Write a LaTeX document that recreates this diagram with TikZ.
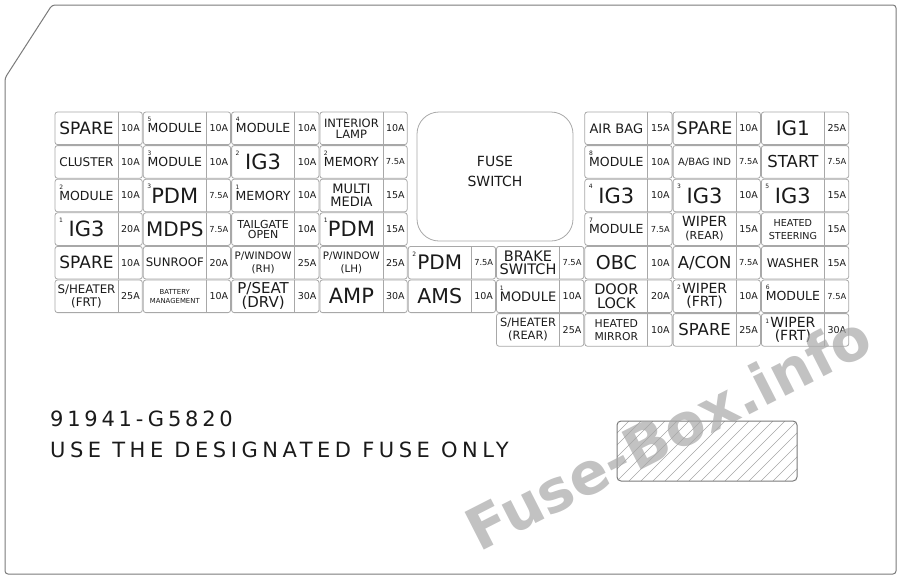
\documentclass[tikz,border=0pt]{standalone}
\usepackage{fontspec}
\setmainfont{DejaVu Sans}
\newfontfamily\spacedfont[LetterSpace=18]{DejaVu Sans}
\newfontfamily\widefont[LetterSpace=21.5]{DejaVu Sans}
\definecolor{cellc}{HTML}{A8A8A8}
\definecolor{txtc}{HTML}{1A1A1A}
\definecolor{outc}{HTML}{7A7A7A}
\definecolor{wmc}{HTML}{A8A8A8}
\newcommand\sa[1]{\makebox[0pt][l]{\raisebox{11pt}[0pt][0pt]{\fontsize{6}{6}\selectfont#1}}}
\newcommand\fz[8]{%
  \node[cell] (#3) at (#1,#2) {};
  \draw[divl] ([xshift=63pt]#3.north west) -- ([xshift=63pt]#3.south west);
  \node[lbl, font=\fontsize{#4}{#5}\selectfont] (#3l) at ([xshift=31.5pt]#3.west) {#6};
  \node[lbl, font=\fontsize{#7}{#7}\selectfont] (#3a) at ([xshift=75.5pt]#3.west) {#8};
}
\newcommand\sd[2]{\node[dig] (#1d) at ([xshift=6pt,yshift=-7.5pt]#1.north west) {#2};}
\begin{document}
\begin{tikzpicture}[x=1pt,y=-1pt,
  cell/.style={draw=cellc, line width=0.8pt, rounded corners=2.5pt, minimum width=87.3pt, minimum height=32.6pt, anchor=north west, inner sep=0pt, outer sep=0pt},
  divl/.style={draw=cellc, line width=0.8pt},
  lbl/.style={text=txtc, align=center, inner sep=0pt},
  dig/.style={text=txtc, font=\fontsize{6}{6}\selectfont, inner sep=0pt},
  outl/.style={draw=outc, line width=1pt},
  hatch/.style={draw=gray!70, line width=0.5pt}]
\useasboundingbox (0,0) rectangle (900,579);
% outline
\draw[outl, rounded corners=3pt] (5,78) -- (52,5) -- (896,5) -- (896,574) -- (5,574) -- cycle;
% column 1
\fz{55}{112}{a1}{17}{17}{SPARE}{9.5}{10A}
\fz{55}{145.6}{a2}{12}{12}{CLUSTER}{9.5}{10A}
\fz{55}{179.2}{a3}{12.5}{12.5}{\sa{2}MODULE}{9.5}{10A}
\fz{55}{212.8}{a4}{21}{21}{IG3}{9.5}{20A}\sd{a4}{1}
\fz{55}{246.4}{a5}{17}{17}{SPARE}{9.5}{10A}
\fz{55}{280}{a6}{11.8}{13}{S/HEATER\\(FRT)}{9.5}{25A}
% column 2
\fz{143.3}{112}{b1}{12.5}{12.5}{\sa{5}MODULE}{9.5}{10A}
\fz{143.3}{145.6}{b2}{12.5}{12.5}{\sa{3}MODULE}{9.5}{10A}
\fz{143.3}{179.2}{b3}{21}{21}{PDM}{8.3}{7.5A}\sd{b3}{3}
\fz{143.3}{212.8}{b4}{20}{20}{MDPS}{8.3}{7.5A}
\fz{143.3}{246.4}{b5}{11.7}{11.7}{SUNROOF}{9.5}{20A}
\fz{143.3}{280}{b6}{6.9}{9}{BATTERY\\MANAGEMENT}{9.5}{10A}
% column 3
\fz{231.6}{112}{c1}{12.5}{12.5}{\sa{4}MODULE}{9.5}{10A}
\fz{231.6}{145.6}{c2}{21}{21}{IG3}{9.5}{10A}\sd{c2}{2}
\fz{231.6}{179.2}{c3}{12.5}{12.5}{\sa{1}MEMORY}{9.5}{10A}
\fz{231.6}{212.8}{c4}{11}{10}{TAILGATE\\OPEN}{9.5}{10A}
\fz{231.6}{246.4}{c5}{10.3}{13}{P/WINDOW\\(RH)}{9.5}{25A}
\fz{231.6}{280}{c6}{15}{14}{P/SEAT\\(DRV)}{9.5}{30A}
% column 4
\fz{319.9}{112}{d1}{11.5}{11}{INTERIOR\\LAMP}{9.5}{10A}
\fz{319.9}{145.6}{d2}{12.5}{12.5}{\sa{2}MEMORY}{8.3}{7.5A}
\fz{319.9}{179.2}{d3}{13}{13}{MULTI\\MEDIA}{9.5}{15A}
\fz{319.9}{212.8}{d4}{21}{21}{PDM}{9.5}{15A}\sd{d4}{1}
\fz{319.9}{246.4}{d5}{10.3}{13}{P/WINDOW\\(LH)}{9.5}{25A}
\fz{319.9}{280}{d6}{21}{21}{AMP}{9.5}{30A}
% fuse switch
\node[draw=cellc, line width=0.8pt, rounded corners=22pt, minimum width=156pt, minimum height=129pt, inner sep=0pt] (sw) at (495,176.5) {};
\node[lbl, font=\fontsize{14}{20}\selectfont] (swt) at (495,171) {FUSE\\SWITCH};
% column 5
\fz{408.2}{246.4}{e5}{20}{20}{PDM}{8.3}{7.5A}\sd{e5}{2}
\fz{408.2}{280}{e6}{20.5}{20.5}{AMS}{9.5}{10A}
% column 6
\fz{496.5}{246.4}{f5}{14.5}{13}{BRAKE\\SWITCH}{8.3}{7.5A}
\fz{496.5}{280}{f6}{13}{13}{\sa{1}MODULE}{9.5}{10A}
\fz{496.5}{313.6}{f7}{11.4}{13}{S/HEATER\\(REAR)}{9.5}{25A}
% column 7
\fz{584.8}{112}{g1}{13}{13}{AIR BAG}{9.5}{15A}
\fz{584.8}{145.6}{g2}{12.5}{12.5}{\sa{8}MODULE}{9.5}{10A}
\fz{584.8}{179.2}{g3}{21}{21}{IG3}{9.5}{10A}\sd{g3}{4}
\fz{584.8}{212.8}{g4}{12.5}{12.5}{\sa{7}MODULE}{8.3}{7.5A}
\fz{584.8}{246.4}{g5}{19}{19}{OBC}{9.5}{10A}
\fz{584.8}{280}{g6}{14.5}{14}{DOOR\\LOCK}{9.5}{20A}
\fz{584.8}{313.6}{g7}{10.8}{13}{HEATED\\MIRROR}{9.5}{10A}
% column 8
\fz{673.1}{112}{h1}{17.5}{17.5}{SPARE}{9.5}{10A}
\fz{673.1}{145.6}{h2}{10}{10}{A/BAG IND}{8.3}{7.5A}
\fz{673.1}{179.2}{h3}{21}{21}{IG3}{9.5}{10A}\sd{h3}{3}
\fz{673.1}{212.8}{h4}{14}{13}{WIPER\\\fontsize{11}{11}\selectfont(REAR)}{9.5}{15A}
\fz{673.1}{246.4}{h5}{16.5}{16.5}{A/CON}{8.3}{7.5A}
\fz{673.1}{280}{h6}{14}{13}{WIPER\\(FRT)}{9.5}{10A}\sd{h6}{2}
\fz{673.1}{313.6}{h7}{16.5}{16.5}{SPARE}{9.5}{25A}
% column 9
\fz{761.4}{112}{i1}{20}{20}{IG1}{9.5}{25A}
\fz{761.4}{145.6}{i2}{16.5}{16.5}{START}{8.3}{7.5A}
\fz{761.4}{179.2}{i3}{21}{21}{IG3}{9.5}{15A}\sd{i3}{5}
\fz{761.4}{212.8}{i4}{9.6}{13}{HEATED\\STEERING}{9.5}{15A}
\fz{761.4}{246.4}{i5}{12}{12}{WASHER}{9.5}{15A}
\fz{761.4}{280}{i6}{12.5}{12.5}{\sa{6}MODULE}{8.3}{7.5A}
\fz{761.4}{313.6}{i7}{14}{13}{WIPER\\(FRT)}{9.5}{30A}\sd{i7}{1}
% bottom texts
\node[anchor=base west, inner sep=0pt, text=txtc, font=\spacedfont\fontsize{21}{21}\selectfont] (pn) at (50,426) {91941-G5820};
\node[anchor=base west, inner sep=0pt, text=txtc, font=\widefont\fontsize{21}{21}\selectfont] (use) at (50,457) {USE THE DESIGNATED FUSE ONLY};
% label area
\node[draw=outc, line width=1pt, rounded corners=4pt, minimum width=180pt, minimum height=60pt, inner sep=0pt,
  path picture={\foreach \i in {-60,-48,...,192} {\draw[hatch] ([xshift=\i pt]path picture bounding box.south west) -- ([xshift=\i pt+60pt, yshift=60pt]path picture bounding box.south west);}}] (lab) at (707,451) {};
% watermark
\node[rotate=27, text=wmc, text opacity=0.7, font=\bfseries\fontsize{58}{58}\selectfont, inner sep=0pt] (wm) at (668,432) {Fuse-Box.info};
\end{tikzpicture}
\end{document}
